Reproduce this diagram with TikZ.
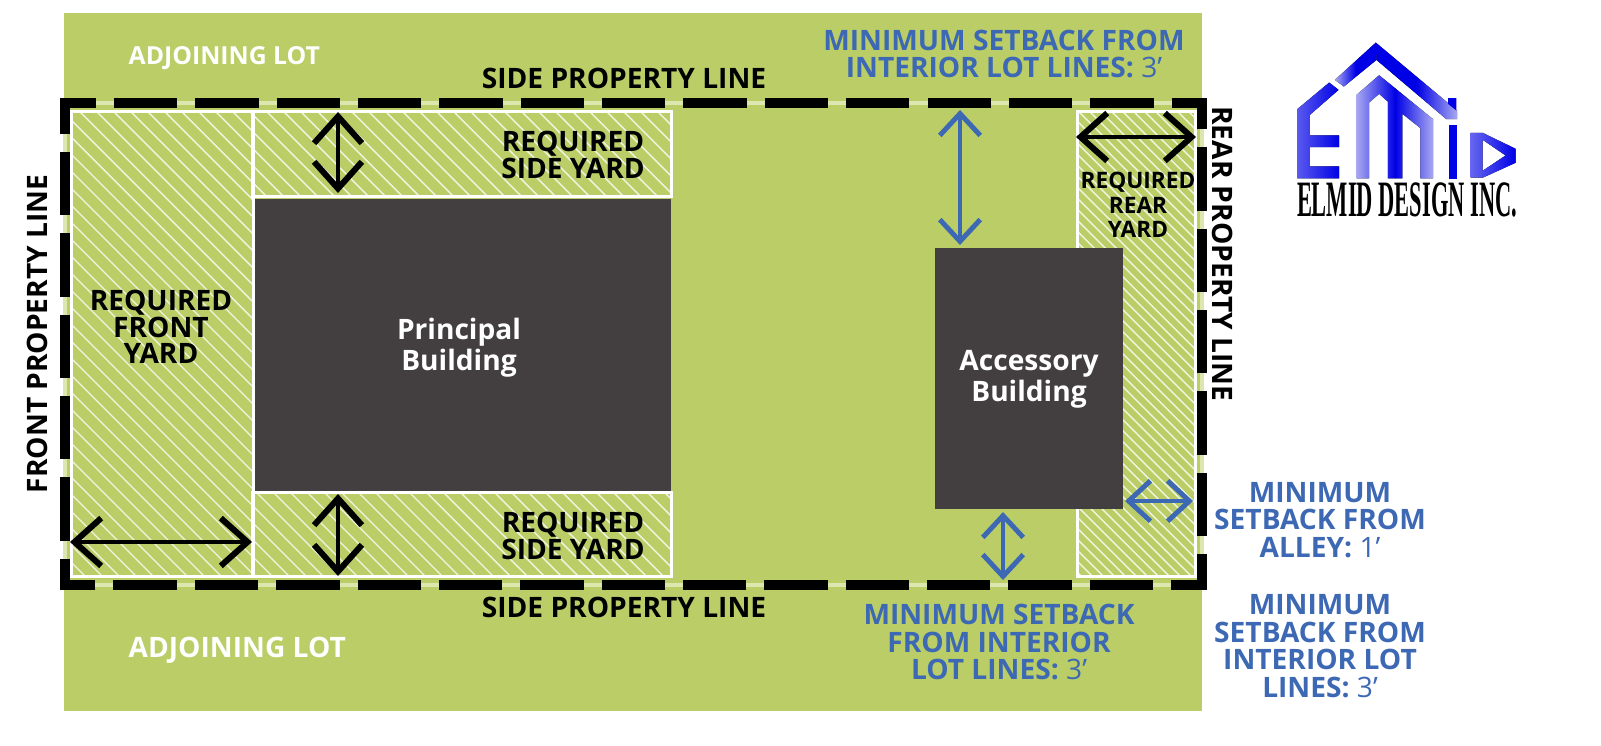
\documentclass[tikz,border=0pt]{standalone}
\usepackage{fontspec}
\setmainfont{Open Sans}
\newfontfamily\logofont{Liberation Serif}
\usetikzlibrary{arrows.meta}
\definecolor{lotgreen}{HTML}{BACD66}
\definecolor{paleline}{HTML}{DDE6AE}
\definecolor{darkbldg}{HTML}{433F40}
\definecolor{setblue}{HTML}{3D68B4}
\definecolor{logoblue}{HTML}{0000E6}
\definecolor{logopale}{HTML}{A8A8F2}
\newcommand{\hatchyard}[2]{%
  \begin{scope}
    \clip (#1.north west) rectangle (#1.south east);
    \foreach \n in {-70,...,130}
      \draw[white, line width=0.4pt, opacity=.8] (\n*#2,100) -- ++(600,600);
  \end{scope}}
\tikzset{
  yard/.style={draw=white, line width=0.85pt, inner sep=0pt, outer sep=0pt},
  building/.style={fill=darkbldg, text=white, align=center, inner sep=0pt, outer sep=0pt, font=\fontsize{8}{8.9}\selectfont\bfseries},
  lbl/.style={align=center, inner sep=0pt, font=\fontsize{8}{7.6}\selectfont\bfseries},
  setlbl/.style={lbl, text=setblue, font=\fontsize{8}{7.8}\selectfont\bfseries},
  propline/.style={black, line width=0.1cm, dash pattern=on 0.633cm off 0.18cm, dash phase=0.273cm},
  blackarrow/.style={{Straight Barb[length=7.6pt,width=13.6pt,line width=1.7pt]}-{Straight Barb[length=7.6pt,width=13.6pt,line width=1.7pt]}, line width=1.1pt, black},
  bluearrow/.style={{Straight Barb[length=6.2pt,width=11.5pt,line width=1.4pt]}-{Straight Barb[length=6.2pt,width=11.5pt,line width=1.4pt]}, line width=1.1pt, setblue},
  logofill/.style={draw=none},
}
\begin{document}
\begin{tikzpicture}[x=0.01cm, y=-0.01cm]
  \useasboundingbox (0,0) rectangle (1601,746);
  \fill[lotgreen] (64,13) rectangle (1202,711);

  % property corners
  \coordinate (NW) at (65,103);
  \coordinate (NE) at (1202,103);
  \coordinate (SW) at (65,585);
  \coordinate (SE) at (1202,585);
  \draw[paleline, line width=0.04cm] (NW) -- (NE) -- (SE) -- (SW) -- cycle;

  % yards
  \node[yard, minimum width=1.81cm, minimum height=4.64cm] (frontyard) at (162.5,344) {};
  \node[yard, minimum width=4.18cm, minimum height=0.84cm] (topyard) at (462,154) {};
  \node[yard, minimum width=4.18cm, minimum height=0.83cm] (botyard) at (462,534.5) {};
  \node[yard, minimum width=1.17cm, minimum height=4.64cm] (rearyard) at (1136.5,344) {};
  \hatchyard{frontyard}{17}
  \hatchyard{topyard}{17}
  \hatchyard{botyard}{17}
  \hatchyard{rearyard}{11}

  % buildings
  \node[building, minimum width=4.16cm, minimum height=2.92cm] (principal) at (463,345) {};
  \node[building, minimum width=1.88cm, minimum height=2.61cm] (accessory) at (1029,378.5) {};
  \node[building, fill=none] (principaltxt) at (459,348) {Principal\\Building};
  \node[building, fill=none] (accessorytxt) at (1029,379.5) {Accessory\\Building};

  % property line
  \draw[propline] (60,103) -- (1207,103);
  \draw[propline] (65,98) -- (65,590);
  \draw[propline] (1207,585) -- (60,585);
  \draw[propline] (1202,590) -- (1202,98);

  % arrows
  \coordinate (a1) at (338,112);  \coordinate (a2) at (338,193);
  \coordinate (a3) at (338,494);  \coordinate (a4) at (338,576);
  \coordinate (a5) at (70,542);   \coordinate (a6) at (252,542);
  \coordinate (a7) at (1076,137); \coordinate (a8) at (1196,137);
  \coordinate (b1) at (960,110);  \coordinate (b2) at (960,245);
  \coordinate (b3) at (1003,512); \coordinate (b4) at (1003,580);
  \coordinate (b5) at (1125,501); \coordinate (b6) at (1193,501);
  \draw[blackarrow] (a1) -- (a2);
  \draw[blackarrow] (a3) -- (a4);
  \draw[blackarrow] (a5) -- (a6);
  \draw[blackarrow] (a7) -- (a8);
  \draw[bluearrow] (b1) -- (b2);
  \draw[bluearrow] (b3) -- (b4);
  \draw[bluearrow] (b5) -- (b6);

  % labels
  \node[lbl, text=white, anchor=west, font=\fontsize{7.05}{8}\selectfont\bfseries] (adjtop) at (128,58) {ADJOINING LOT};
  \node[lbl, text=white, anchor=west, font=\fontsize{8}{9}\selectfont\bfseries] (adjbot) at (128,650) {ADJOINING LOT};
  \node[lbl] (sidetop) at (624,78) {SIDE PROPERTY LINE};
  \node[lbl] (sidebot) at (624,607) {SIDE PROPERTY LINE};
  \node[lbl, rotate=90] (frontline) at (37,334) {FRONT PROPERTY LINE};
  \node[lbl, rotate=-90] (rearline) at (1223,254) {REAR PROPERTY LINE};
  \node[lbl] (reqtop) at (573,155) {REQUIRED\\SIDE YARD};
  \node[lbl] (reqbot) at (573,536) {REQUIRED\\SIDE YARD};
  \node[lbl] (reqfront) at (161,327) {REQUIRED\\FRONT\\YARD};
  \node[lbl, font=\fontsize{6.45}{6.9}\selectfont\bfseries] (reqrear) at (1138,205) {REQUIRED\\REAR\\YARD};
  \node[setlbl] (settop) at (1004,54) {MINIMUM SETBACK FROM\\INTERIOR LOT LINES: {\mdseries 3'}};
  \node[setlbl] (setbot) at (999,642) {MINIMUM SETBACK\\FROM INTERIOR\\LOT LINES: {\mdseries 3'}};
  \node[setlbl] (setalley) at (1320,520) {MINIMUM\\SETBACK FROM\\ALLEY: {\mdseries 1'}};
  \node[setlbl] (setside) at (1320,646) {MINIMUM\\SETBACK FROM\\INTERIOR LOT\\LINES: {\mdseries 3'}};

  % logo
  \begin{scope}[shift={(1240,20)}, x=0.00333cm, y=-0.00333cm]
    \fill[logofill, left color=logopale, right color=logoblue, middle color=logoblue] (285,180) -- (408,68) -- (410,120) -- (312,200) -- cycle;
    \fill[logofill, left color=logoblue, right color=logopale, middle color=logoblue] (408,68) -- (652,272) -- (652,298) -- (620,298) -- (410,120) -- cycle;
    \fill[logoblue] (625,235) -- (650,235) -- (650,272) -- (625,252) -- cycle;
    \fill[logofill, left color=logoblue!65!white, right color=logoblue] (172,268) -- (268,188) -- (296,210) -- (210,285) -- (210,347) -- (298,347) -- (298,382) -- (210,382) -- (210,440) -- (298,440) -- (298,476) -- (172,476) -- cycle;
    \fill[logofill, left color=logopale, right color=logoblue] (350,225) -- (418,166) -- (466,205) -- (466,476) -- (444,476) -- (444,245) -- (418,222) -- (388,248) -- (388,476) -- (350,476) -- cycle;
    \fill[logofill, left color=logoblue, right color=logopale] (466,205) -- (580,298) -- (580,476) -- (542,476) -- (542,325) -- (488,282) -- (488,476) -- (466,476) -- cycle;
    \fill[logoblue] (627,316) rectangle (652,478);
    \fill[logofill, left color=logoblue!60!white, right color=logoblue, even odd rule] (693,339) -- (729,339) -- (828,387) -- (828,429) -- (729,474) -- (693,474) -- cycle (729,360) -- (729,453) -- (798,407) -- cycle;
  \end{scope}
  \node[inner sep=0pt, text=black, font=\logofont\fontsize{14.5}{15}\selectfont\bfseries, xscale=0.44] (logotext) at (1407,200) {ELMID DESIGN INC.};
\end{tikzpicture}
\end{document}
